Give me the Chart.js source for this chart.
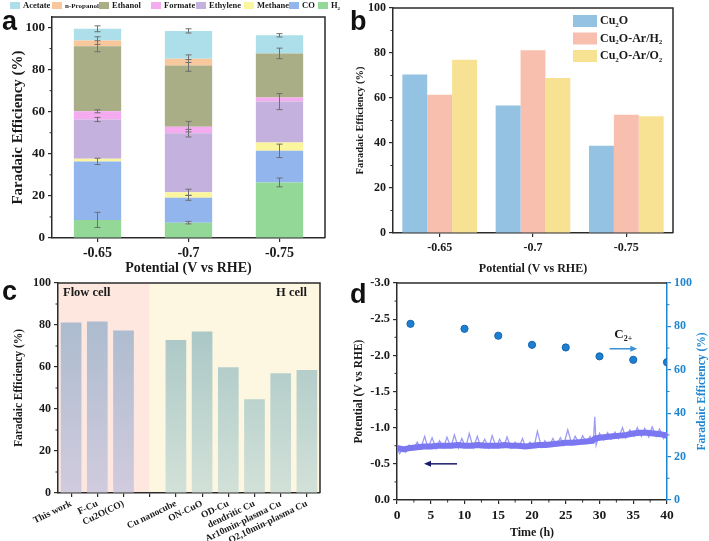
<!DOCTYPE html>
<html>
<head>
<meta charset="utf-8">
<title>Faradaic efficiency panels</title>
<script src="https://cdn.jsdelivr.net/npm/chart.js@4.4.1/dist/chart.umd.min.js"></script>
<style>
  body { margin: 0; background: #fff; }
  .panel { position: absolute; }
</style>
</head>
<body>
<canvas id="chartA" class="panel" width="354" height="280" style="left:0;top:0"></canvas>
<canvas id="chartB" class="panel" width="361" height="280" style="left:348px;top:0"></canvas>
<canvas id="chartC" class="panel" width="354" height="271" style="left:0;top:270px"></canvas>
<canvas id="chartD" class="panel" width="361" height="271" style="left:348px;top:270px"></canvas>
<script>
// ---- panel a: product distribution (stacked, bottom to top) ----
const potentials = ['-0.65', '-0.7', '-0.75'];
const feH2 = [8.6, 7.3, 26.4];
const feCO = [27.8, 11.8, 15.0];
const feMethane = [1.3, 2.6, 4.0];
const feEthylene = [18.6, 28.1, 19.4];
const feFormate = [3.9, 3.1, 1.9];
const feEthanol = [30.9, 29.1, 21.0];
const fePropanol = [2.7, 3.2, 0];
const feAcetate = [5.6, 13.2, 8.6];
const errH2 = [3.6, 0.6, 2.1];
const errCO = [1.5, 1.2, 3.2];
const errMethane = [0, 1.5, 0];
const errEthylene = [1.0, 1.8, 3.8];
const errFormate = [0.7, 2.5, 0];
const errEthanol = [2.6, 2.8, 2.5];
const errPropanol = [1.8, 1.8, 0];
const errAcetate = [1.4, 1.0, 0.8];

// ---- panel b: C2+ FE of the three catalysts ----
const catalysts = ['Cu₂O', 'Cu₂O-Ar/H₂', 'Cu₂O-Ar/O₂'];
const c2Cu2O = [70.4, 56.7, 38.8];
const c2ArH2 = [61.5, 81.2, 52.6];
const c2ArO2 = [77.0, 68.9, 51.9];

// ---- panel c: comparison with literature ----
const refLabels = ['This work', 'F-Cu', 'Cu2O(CO)', '', 'Cu nanocube', 'ON-CuO', 'OD-Cu',
  'dendritic Cu', 'Ar10min-plasma Cu', 'O2,10min-plasma Cu'];
const refFE = [81.2, 81.7, 77.4, null, 72.9, 76.9, 59.9, 44.7, 57.0, 58.6];
const flowCellCount = 3;

// ---- panel d: stability test ----
const bandTime = [0, 1, 2, 3, 4, 5, 6, 7, 8, 9, 10, 11, 12, 13, 14, 15, 16, 17, 18, 19, 20,
  21, 22, 23, 24, 25, 26, 27, 28, 29, 29.3, 30, 31, 32, 33, 34, 35, 36, 37, 38, 39, 40];
const bandV = [-0.72, -0.70, -0.72, -0.73, -0.74, -0.74, -0.75, -0.75, -0.75, -0.76, -0.75,
  -0.75, -0.76, -0.75, -0.75, -0.75, -0.76, -0.75, -0.75, -0.74, -0.75, -0.76, -0.76, -0.77,
  -0.78, -0.79, -0.79, -0.80, -0.81, -0.82, -0.85, -0.86, -0.87, -0.88, -0.89, -0.90, -0.92,
  -0.93, -0.93, -0.92, -0.91, -0.89];
const noiseTime = [0, 0.4, 0.9, 1.3, 1.8, 2.4, 3.0, 3.5, 4.1, 4.6,
  5.2, 5.8, 6.3, 6.9, 7.4, 8.0, 8.5, 9.1, 9.6, 10.2,
  10.7, 11.3, 11.9, 12.4, 13.0, 13.6, 14.1, 14.7, 15.2, 15.8,
  16.3, 16.9, 17.5, 18.0, 18.6, 19.1, 19.7, 20.3, 20.8, 21.4,
  21.9, 22.5, 23.1, 23.6, 24.2, 24.7, 25.3, 25.9, 26.4, 27.0,
  27.5, 28.1, 28.6, 29.1, 29.3, 29.5, 30.0, 30.6, 31.2, 31.7,
  32.3, 32.8, 33.4, 33.9, 34.5, 35.1, 35.6, 36.2, 36.7, 37.3,
  37.8, 38.4, 38.9, 39.5, 40.0];
const noiseV = [-0.70, -0.64, -0.73, -0.66, -0.76, -0.70, -0.80, -0.71, -0.88, -0.72,
  -0.86, -0.71, -0.82, -0.72, -0.87, -0.73, -0.90, -0.72, -0.85, -0.73,
  -0.92, -0.72, -0.88, -0.73, -0.84, -0.72, -0.89, -0.73, -0.84, -0.73,
  -0.87, -0.72, -0.80, -0.72, -0.85, -0.72, -0.80, -0.73, -0.95, -0.73,
  -0.82, -0.74, -0.85, -0.75, -0.86, -0.76, -0.97, -0.77, -0.88, -0.78,
  -0.89, -0.79, -0.88, -0.80, -1.15, -0.76, -0.92, -0.83, -0.93, -0.84,
  -0.94, -0.85, -1.00, -0.86, -0.97, -0.88, -1.00, -0.88, -0.99, -0.87,
  -1.01, -0.88, -0.98, -0.85, -0.93];
const feTime = [2, 10, 15, 20, 25, 30, 35, 40];
const feC2 = [81.2, 78.9, 75.7, 71.5, 70.3, 66.2, 64.6, 63.5];

// ---- shared styling ----
const SERIF = "'Liberation Serif', 'Times New Roman', serif";
const SANS = "'Liberation Sans', Arial, sans-serif";
const AX = '#2b2b2b';
const BLUE = '#1f86d1';
Chart.defaults.font.family = SERIF;
Chart.defaults.font.weight = 'bold';
Chart.defaults.color = '#1a1a1a';
Chart.defaults.animation = false;
Chart.defaults.plugins.legend.display = false;
Chart.defaults.plugins.tooltip.enabled = false;

function axisBase(color) {
  color = color || AX;
  return {
    grid: { drawOnChartArea: false, drawTicks: true, tickLength: 4, color: color, lineWidth: 1.2, offset: false },
    border: { display: true, color: color, width: 1.5 },
  };
}

// pin axis box sizes so the plot areas sit where the figure has them
function fixBox(w, h) {
  return (s) => {
    if (w != null) s.width = w;
    if (h != null) s.height = h;
    s.paddingTop = 0; s.paddingBottom = 0; s.paddingLeft = 0; s.paddingRight = 0;
  };
}

const SUBS = { '₂': '2', '₊': '+' };
function drawRich(ctx, text, x, y, size, color) {
  ctx.fillStyle = color;
  ctx.textBaseline = 'middle';
  ctx.textAlign = 'left';
  let cx = x;
  for (const ch of text) {
    const sub = SUBS[ch];
    ctx.font = `bold ${sub ? Math.round(size * 0.62) : size}px ${SERIF}`;
    const c = sub || ch;
    ctx.fillText(c, cx, sub ? y + size * 0.32 : y);
    cx += ctx.measureText(c).width;
  }
}

function arrow(ctx, x1, y1, x2, y2, color) {
  const ang = Math.atan2(y2 - y1, x2 - x1);
  ctx.save();
  ctx.strokeStyle = color; ctx.fillStyle = color; ctx.lineWidth = 1.5;
  ctx.beginPath(); ctx.moveTo(x1, y1); ctx.lineTo(x2 - 4 * Math.cos(ang), y2 - 4 * Math.sin(ang)); ctx.stroke();
  ctx.beginPath();
  ctx.moveTo(x2, y2);
  ctx.lineTo(x2 - 7 * Math.cos(ang) + 3 * Math.sin(ang), y2 - 7 * Math.sin(ang) - 3 * Math.cos(ang));
  ctx.lineTo(x2 - 7 * Math.cos(ang) - 3 * Math.sin(ang), y2 - 7 * Math.sin(ang) + 3 * Math.cos(ang));
  ctx.closePath(); ctx.fill();
  ctx.restore();
}

// top + right border of the plot box
Chart.register({
  id: 'frame',
  afterDraw(chart, args, opts) {
    if (!opts.color) return;
    const { ctx, chartArea: a } = chart;
    ctx.save();
    ctx.strokeStyle = opts.color; ctx.lineWidth = 1.5;
    ctx.beginPath();
    ctx.moveTo(a.left, a.top); ctx.lineTo(a.right, a.top);
    if (opts.right) ctx.lineTo(a.right, a.bottom);
    ctx.stroke();
    ctx.restore();
  }
});

// minor ticks halfway between the major ones
Chart.register({
  id: 'minorTicks',
  afterDraw(chart, args, opts) {
    const ctx = chart.ctx;
    (opts.axes || []).forEach((id) => {
      const s = chart.scales[id];
      const ticks = s.ticks;
      ctx.save();
      ctx.strokeStyle = s.options.border.color;
      ctx.lineWidth = 1;
      ctx.beginPath();
      for (let k = 0; k < ticks.length - 1; k++) {
        const p = s.getPixelForValue((ticks[k].value + ticks[k + 1].value) / 2);
        if (s.isHorizontal()) { ctx.moveTo(p, s.top); ctx.lineTo(p, s.top + 2.5); }
        else if (s.position === 'left') { ctx.moveTo(s.right, p); ctx.lineTo(s.right - 2.5, p); }
        else { ctx.moveTo(s.left, p); ctx.lineTo(s.left + 2.5, p); }
      }
      ctx.stroke();
      ctx.restore();
    });
  }
});

// panel letter
Chart.register({
  id: 'panelLetter',
  afterDraw(chart, args, opts) {
    if (!opts.text) return;
    const ctx = chart.ctx;
    ctx.save();
    ctx.font = `bold 27px ${SANS}`;
    ctx.fillStyle = '#111';
    ctx.textAlign = 'left'; ctx.textBaseline = 'alphabetic';
    ctx.fillText(opts.text, opts.x, opts.y);
    ctx.restore();
  }
});

// ================= panel a =================
const stackSeries = [
  { label: 'H₂', values: feH2, errors: errH2, color: '#93d897' },
  { label: 'CO', values: feCO, errors: errCO, color: '#93b5ee' },
  { label: 'Methane', values: feMethane, errors: errMethane, color: '#fbf59e' },
  { label: 'Ethylene', values: feEthylene, errors: errEthylene, color: '#c4b1dd' },
  { label: 'Formate', values: feFormate, errors: errFormate, color: '#f4abf0' },
  { label: 'Ethanol', values: feEthanol, errors: errEthanol, color: '#a9ae86' },
  { label: 'n-Propanol', values: fePropanol, errors: errPropanol, color: '#f9c79c' },
  { label: 'Acetate', values: feAcetate, errors: errAcetate, color: '#acdfe9' },
];

const errorBars = {
  id: 'errorBars',
  afterDatasetsDraw(chart) {
    const ctx = chart.ctx, y = chart.scales.y;
    chart.data.datasets.forEach((ds, i) => {
      const meta = chart.getDatasetMeta(i);
      meta.data.forEach((bar, j) => {
        const e = stackSeries[i].errors[j];
        if (!e) return;
        const d = y.getPixelForValue(0) - y.getPixelForValue(e);
        ctx.save();
        ctx.strokeStyle = '#6f6f6f'; ctx.lineWidth = 1;
        ctx.beginPath();
        ctx.moveTo(bar.x, bar.y - d); ctx.lineTo(bar.x, bar.y + d);
        ctx.moveTo(bar.x - 3, bar.y - d); ctx.lineTo(bar.x + 3, bar.y - d);
        ctx.moveTo(bar.x - 3, bar.y + d); ctx.lineTo(bar.x + 3, bar.y + d);
        ctx.stroke();
        ctx.restore();
      });
    });
  }
};

// legend strip across the top, listed top-of-stack first
const stackLegend = {
  id: 'stackLegend',
  afterDraw(chart) {
    const ctx = chart.ctx;
    const xs = [10, 52, 99, 151, 196, 244, 289, 318];
    const items = chart.data.datasets.slice().reverse();
    items.forEach((ds, k) => {
      ctx.fillStyle = ds.backgroundColor;
      ctx.fillRect(xs[k], 2, 10, 7);
      drawRich(ctx, ds.label, xs[k] + 13, 6, ds.label === 'n-Propanol' ? 7 : 8.5, '#1a1a1a');
    });
  }
};

new Chart(document.getElementById('chartA'), {
  type: 'bar',
  data: {
    labels: potentials,
    datasets: stackSeries.map((s) => ({ label: s.label, data: s.values, backgroundColor: s.color, borderWidth: 0 })),
  },
  options: {
    responsive: false, devicePixelRatio: 1,
    layout: { padding: { top: 17, right: 29, left: 0, bottom: 0 } },
    datasets: { bar: { barPercentage: 0.52, categoryPercentage: 1 } },
    scales: {
      x: {
        stacked: true, ...axisBase(),
        ticks: { font: { size: 14 }, padding: 3 },
        title: { display: true, text: 'Potential (V vs RHE)', font: { size: 14 }, padding: { top: 0, bottom: 3 } },
        afterFit: fixBox(null, 42),
      },
      y: {
        stacked: true, min: 0, max: 105, ...axisBase(),
        ticks: { stepSize: 20, includeBounds: false, font: { size: 13 }, padding: 3 },
        title: { display: true, text: 'Faradaic Efficiency (%)', font: { size: 15 }, padding: { top: 9, bottom: 0 } },
        afterFit: fixBox(52, null),
      },
    },
    plugins: {
      frame: { color: AX, right: true },
      minorTicks: { axes: ['y'] },
      panelLetter: { text: 'a', x: 2, y: 30 },
    },
  },
  plugins: [errorBars, stackLegend],
});

// ================= panel b =================
const boxLegend = {
  id: 'boxLegend',
  afterDraw(chart) {
    const { ctx, chartArea: a } = chart;
    chart.data.datasets.forEach((ds, k) => {
      const bx = a.right - 100, by = a.top + 7 + k * 17.5;
      ctx.fillStyle = ds.backgroundColor;
      ctx.fillRect(bx, by, 24, 12);
      drawRich(ctx, ds.label, bx + 27, by + 6, 12, '#1a1a1a');
    });
  }
};

new Chart(document.getElementById('chartB'), {
  type: 'bar',
  data: {
    labels: potentials,
    datasets: [
      { label: catalysts[0], data: c2Cu2O, backgroundColor: '#93c2e2' },
      { label: catalysts[1], data: c2ArH2, backgroundColor: '#f9bfae' },
      { label: catalysts[2], data: c2ArO2, backgroundColor: '#f7e294' },
    ],
  },
  options: {
    responsive: false, devicePixelRatio: 1,
    layout: { padding: { top: 8, right: 36, left: 0, bottom: 0 } },
    datasets: { bar: { barPercentage: 1, categoryPercentage: 0.8 } },
    scales: {
      x: {
        ...axisBase(),
        ticks: { font: { size: 12 }, padding: 4 },
        title: { display: true, text: 'Potential (V vs RHE)', font: { size: 12 }, padding: { top: 0, bottom: 4 } },
        afterFit: fixBox(null, 47),
      },
      y: {
        min: 0, max: 100, ...axisBase(),
        ticks: { stepSize: 20, font: { size: 12 }, padding: 3 },
        title: { display: true, text: 'Faradaic Efficiency (%)', font: { size: 10.5 }, padding: { top: 6, bottom: 0 } },
        afterFit: fixBox(45, null),
      },
    },
    plugins: {
      frame: { color: AX, right: true },
      minorTicks: { axes: ['y'] },
      panelLetter: { text: 'b', x: 2, y: 30 },
    },
  },
  plugins: [boxLegend],
});

// ================= panel c =================
const cellRegions = {
  id: 'cellRegions',
  beforeDraw(chart) {
    const { ctx, chartArea: a, scales: { x } } = chart;
    const split = x.getPixelForValue(flowCellCount);
    ctx.save();
    ctx.fillStyle = '#fde7df';
    ctx.fillRect(a.left, a.top, split - a.left, a.bottom - a.top);
    ctx.fillStyle = '#fdf7e1';
    ctx.fillRect(split, a.top, a.right - split, a.bottom - a.top);
    ctx.fillStyle = '#1a1a1a';
    ctx.font = `bold 12.5px ${SERIF}`;
    ctx.textBaseline = 'middle';
    ctx.textAlign = 'left';
    ctx.fillText('Flow cell', a.left + 5, a.top + 10);
    ctx.textAlign = 'right';
    ctx.fillText('H cell', a.right - 13, a.top + 10);
    ctx.restore();
  }
};

new Chart(document.getElementById('chartC'), {
  type: 'bar',
  data: {
    labels: refLabels,
    datasets: [{
      label: 'C2+ FE',
      data: refFE,
      backgroundColor: (c) => {
        const area = c.chart.chartArea;
        const flow = c.dataIndex < flowCellCount;
        if (!area) return flow ? '#b7c2d3' : '#b5cfcd';
        const g = c.chart.ctx.createLinearGradient(0, area.top, 0, area.bottom);
        g.addColorStop(0, flow ? '#a4b8cb' : '#9fc0c1');
        g.addColorStop(1, flow ? '#d1cbde' : '#d2e1d8');
        return g;
      },
    }],
  },
  options: {
    responsive: false, devicePixelRatio: 1,
    layout: { padding: { top: 13, right: 34, left: 0, bottom: 0 } },
    datasets: { bar: { barPercentage: 0.79, categoryPercentage: 1 } },
    scales: {
      x: {
        ...axisBase(),
        ticks: { autoSkip: false, minRotation: 26, maxRotation: 26, font: { size: 9.5 }, padding: 1 },
        afterFit: fixBox(null, 48),
      },
      y: {
        min: 0, max: 100, ...axisBase(),
        ticks: { stepSize: 20, font: { size: 12 }, padding: 3 },
        title: { display: true, text: 'Faradaic Efficiency (%)', font: { size: 11.5 }, padding: { top: 12, bottom: 0 } },
        afterFit: fixBox(58, null),
      },
    },
    plugins: {
      frame: { color: AX, right: true },
      minorTicks: { axes: ['y'] },
      panelLetter: { text: 'c', x: 2, y: 30 },
    },
  },
  plugins: [cellRegions],
});

// ================= panel d =================
const dExtras = {
  id: 'dExtras',
  afterDraw(chart) {
    const { ctx, chartArea: a, scales: { x, y, y1 } } = chart;
    arrow(ctx, x.getPixelForValue(8.9), y.getPixelForValue(-0.5), x.getPixelForValue(4.0), y.getPixelForValue(-0.5), '#1b1b6b');
    arrow(ctx, x.getPixelForValue(31.5), y1.getPixelForValue(69.7), x.getPixelForValue(35.6), y1.getPixelForValue(69.7), '#3d91d6');
    drawRich(ctx, 'C₂₊', x.getPixelForValue(32.2), y1.getPixelForValue(76), 13, '#1a1a1a');
    // right-hand title reads bottom to top like the left one
    ctx.save();
    ctx.translate(chart.width - 7, (a.top + a.bottom) / 2);
    ctx.rotate(-Math.PI / 2);
    ctx.font = `bold 11.5px ${SERIF}`;
    ctx.fillStyle = BLUE;
    ctx.textAlign = 'center'; ctx.textBaseline = 'middle';
    ctx.fillText('Faradaic Efficiency (%)', 0, 0);
    ctx.restore();
  }
};

new Chart(document.getElementById('chartD'), {
  type: 'line',
  data: {
    datasets: [
      {
        type: 'scatter', label: 'C2+ FE', yAxisID: 'y1',
        data: feTime.map((t, i) => ({ x: t, y: feC2[i] })),
        backgroundColor: '#1d7fcf', borderColor: '#1466b0', borderWidth: 1, pointRadius: 3.6,
      },
      {
        label: 'Potential', yAxisID: 'y',
        data: bandTime.map((t, i) => ({ x: t, y: bandV[i] })),
        borderColor: '#7a77f0', borderWidth: 6, pointRadius: 0, tension: 0,
        borderJoinStyle: 'round', borderCapStyle: 'butt',
      },
      {
        label: 'Potential (raw)', yAxisID: 'y',
        data: noiseTime.map((t, i) => ({ x: t, y: noiseV[i] })),
        borderColor: '#9d9bf4', borderWidth: 1.3, pointRadius: 0, tension: 0,
      },
    ],
  },
  options: {
    responsive: false, devicePixelRatio: 1,
    layout: { padding: { top: 13, right: 0, left: 0, bottom: 0 } },
    scales: {
      x: {
        type: 'linear', min: 0, max: 40, ...axisBase(),
        ticks: { stepSize: 5, font: { size: 13.5 }, padding: 3 },
        title: { display: true, text: 'Time (h)', font: { size: 12 }, padding: { top: 0, bottom: 1 } },
        afterFit: fixBox(null, 41),
      },
      y: {
        position: 'left', min: -3, max: 0, reverse: true, ...axisBase(),
        ticks: { stepSize: 0.5, font: { size: 12.5 }, padding: 3, callback: (v) => v.toFixed(1) },
        title: { display: true, text: 'Potential (V vs RHE)', font: { size: 11.5 }, padding: { top: 4, bottom: 0 } },
        afterFit: fixBox(49, null),
      },
      y1: {
        position: 'right', min: 0, max: 100, ...axisBase(BLUE),
        ticks: { stepSize: 20, color: BLUE, font: { size: 12 }, padding: 3 },
        afterFit: fixBox(42, null),
      },
    },
    plugins: {
      frame: { color: AX, right: false },
      minorTicks: { axes: ['x', 'y', 'y1'] },
      panelLetter: { text: 'd', x: 2, y: 33 },
    },
  },
  plugins: [dExtras],
});
</script>
</body>
</html>
